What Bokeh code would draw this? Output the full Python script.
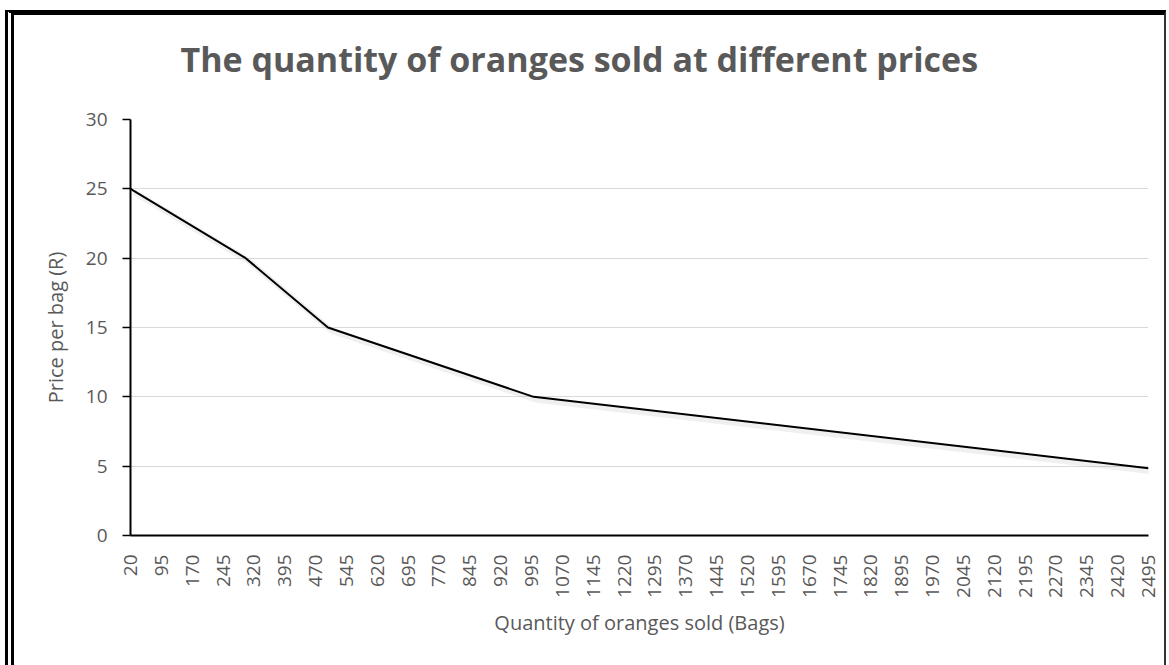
import math
from bokeh.plotting import figure
from bokeh.models import FixedTicker, Range1d, Title
from bokeh.embed import file_html
from bokeh.resources import INLINE

# Data
quantity = [20, 300, 500, 1000, 2495]
price = [25, 20, 15, 10, 4.85]
x_ticks = list(range(20, 2496, 75))
y_ticks = [0, 5, 10, 15, 20, 25, 30]
title_text = "The quantity of oranges sold at different prices"

TEXT = "#595959"
FONT = "Open Sans"

p = figure(width=1150, height=650, output_backend="svg", toolbar_location=None,
           x_range=Range1d(20, 2495), y_range=Range1d(0, 30),
           min_border_left=116, min_border_right=27, min_border_top=104,
           min_border_bottom=135, outline_line_color=None,
           background_fill_color="white", border_fill_color="white")

# double frame around the chart (page decoration)
p.margin = (10, 0, 0, 5)
p.styles = {"border-left": "9px double black",
            "border-top": "5px solid black",
            "border-right": "2px solid #333333",
            "box-sizing": "content-box"}

# spacing between the title and the plot area
spacer = Title(text=" ", text_font=FONT, text_font_size="10px", standoff=20)
p.add_layout(spacer, "above")

p.title.text = title_text
p.title.text_font = FONT
p.title.text_font_size = "34px"
p.title.text_font_style = "bold"
p.title.text_color = TEXT
p.title.align = "left"
p.title.offset = 50
p.title.vertical_align = "top"
p.title.standoff = 0

# grid
p.xgrid.visible = False
p.ygrid.grid_line_color = "#d9d9d9"
p.ygrid.grid_line_width = 1.2

# x axis
xa = p.xaxis[0]
xa.ticker = FixedTicker(ticks=x_ticks)
xa.major_label_orientation = math.pi / 2
xa.major_tick_line_color = None
xa.minor_tick_line_color = None
xa.axis_line_color = "black"
xa.axis_line_width = 2
xa.major_label_text_font = FONT
xa.major_label_text_font_size = "19px"
xa.major_label_text_color = TEXT
xa.major_label_standoff = 13
xa.axis_label = "Quantity of oranges sold (Bags)"
xa.axis_label_text_font = FONT
xa.axis_label_text_font_size = "20px"
xa.axis_label_text_font_style = "normal"
xa.axis_label_text_color = TEXT
xa.axis_label_standoff = 8

# y axis
ya = p.yaxis[0]
ya.ticker = FixedTicker(ticks=y_ticks)
ya.major_tick_out = 8
ya.major_tick_in = 0
ya.major_tick_line_color = "black"
ya.major_tick_line_width = 1.5
ya.minor_tick_line_color = None
ya.axis_line_color = "black"
ya.axis_line_width = 2
ya.major_label_text_font = FONT
ya.major_label_text_font_size = "19px"
ya.major_label_text_color = TEXT
ya.major_label_standoff = 15
ya.axis_label = "Price per bag (R)"
ya.axis_label_text_font = FONT
ya.axis_label_text_font_size = "20px"
ya.axis_label_text_font_style = "normal"
ya.axis_label_text_color = TEXT
ya.axis_label_standoff = 14

# soft shadow under the line
p.line([q + 8 for q in quantity], [v - 0.22 for v in price], line_color="#808080",
       line_width=6, line_alpha=0.12)
p.line(quantity, price, line_color="black", line_width=2)

open("out.html", "w").write(file_html(p, INLINE))
